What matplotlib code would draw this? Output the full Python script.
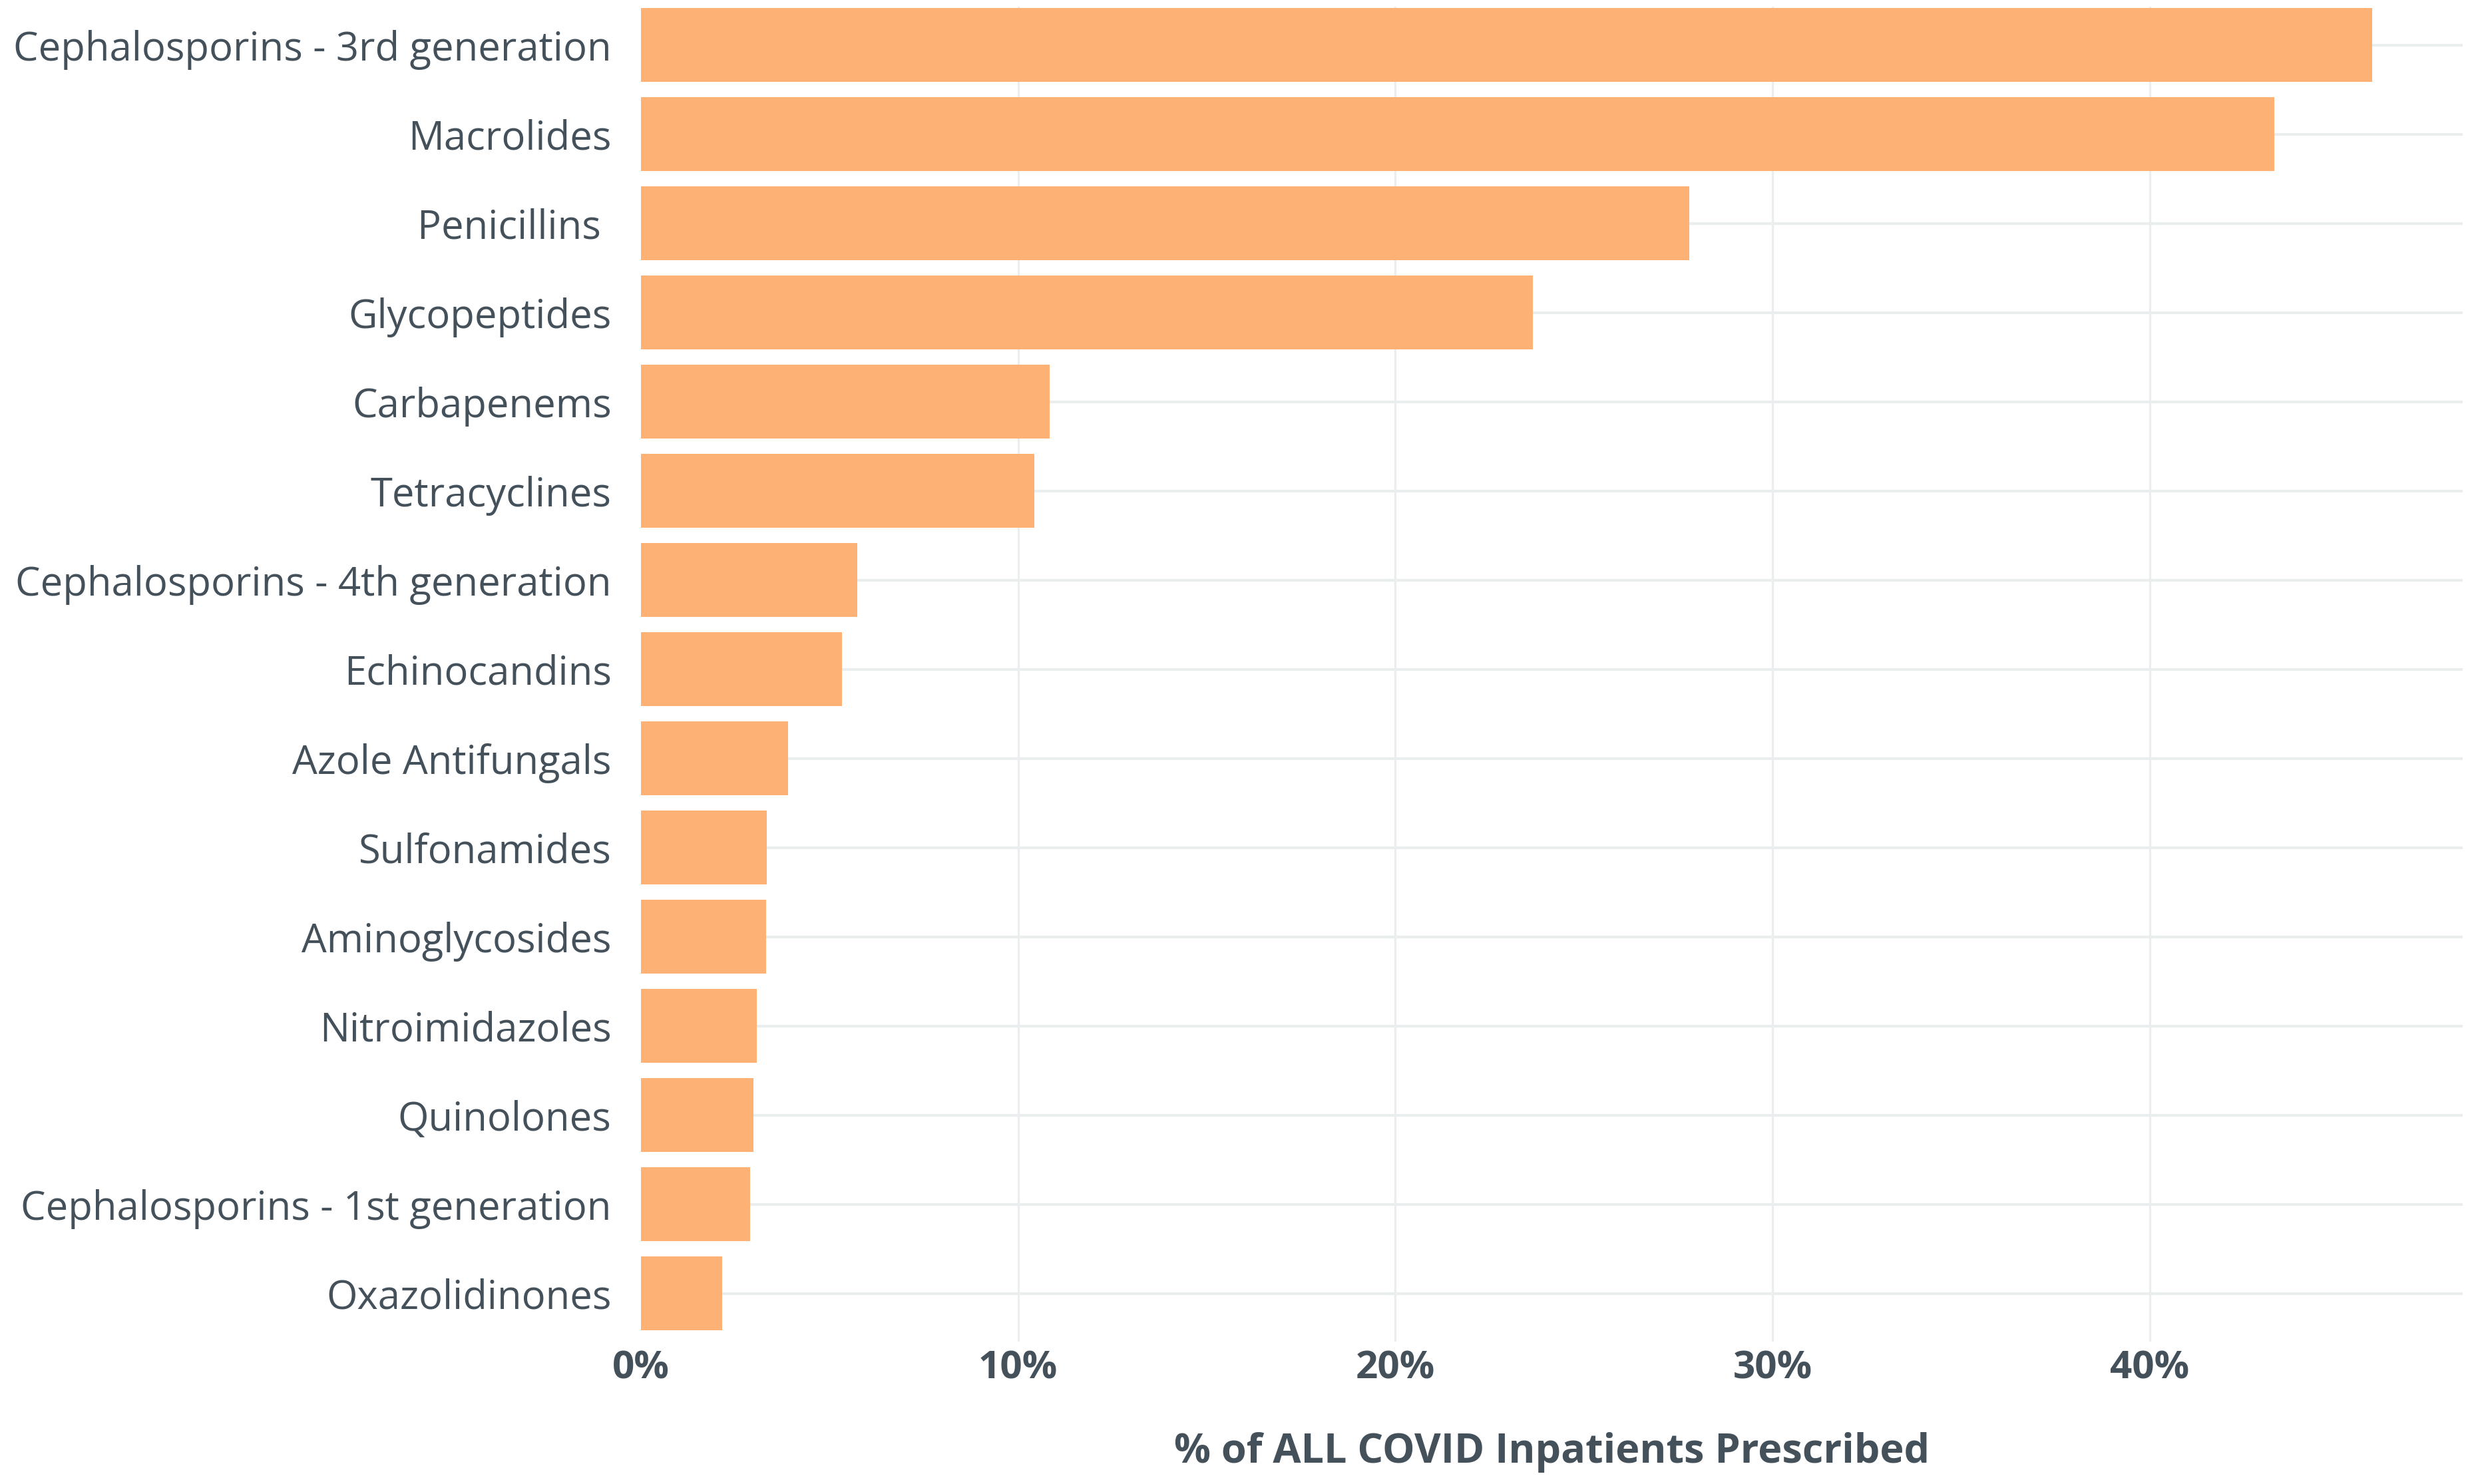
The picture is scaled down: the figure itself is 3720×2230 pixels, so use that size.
import matplotlib
matplotlib.use("Agg")
import matplotlib.pyplot as plt
from matplotlib.ticker import FuncFormatter

# data (top to bottom)
drug_classes = [
    "Cephalosporins - 3rd generation",
    "Macrolides",
    "Penicillins ",
    "Glycopeptides",
    "Carbapenems",
    "Tetracyclines",
    "Cephalosporins - 4th generation",
    "Echinocandins",
    "Azole Antifungals",
    "Sulfonamides",
    "Aminoglycosides",
    "Nitroimidazoles",
    "Quinolones",
    "Cephalosporins - 1st generation",
    "Oxazolidinones",
]
pct_prescribed = [45.9, 43.3, 27.8, 23.65, 10.83, 10.43, 5.73, 5.33, 3.9,
                  3.34, 3.31, 3.07, 2.98, 2.89, 2.15]
x_ticks = [0, 10, 20, 30, 40]

text_col = "#44515b"
bar_col = "#fdb174"
grid_col = "#ebeeee"

plt.rcParams["font.family"] = ["Open Sans", "DejaVu Sans"]

W, H = 3720, 2230
dpi = 200
fig = plt.figure(figsize=(W / dpi, H / dpi), dpi=dpi)
ax = fig.add_axes([963 / W, 1 - 2016 / H, (3700 - 963) / W, (2016 - 10) / H])

n = len(drug_classes)
ypos = [n - 1 - i for i in range(n)]

ax.barh(ypos, pct_prescribed, height=0.83, color=bar_col, zorder=3)

for y in ypos:
    ax.axhline(y, color=grid_col, lw=1.5, zorder=1)
for x in x_ticks[1:]:
    ax.axvline(x, color=grid_col, lw=1.2, zorder=1)

ax.set_xlim(0, 48.3)
ax.set_ylim(-0.54, n - 1 + 0.43)

ax.set_yticks(ypos)
ax.set_yticklabels(drug_classes, fontsize=21.5, color=text_col,
                   va="center_baseline")
ax.set_xticks(x_ticks)
ax.xaxis.set_major_formatter(FuncFormatter(lambda v, p: f"{v:.0f}%"))
for lab in ax.get_xticklabels():
    lab.set_fontweight("bold")
    lab.set_fontsize(21)
    lab.set_color(text_col)

ax.tick_params(axis="y", length=0, pad=16)
ax.tick_params(axis="x", length=0, pad=4)

ax.set_xlabel("% of ALL COVID Inpatients Prescribed", fontsize=22,
              fontweight="bold", color=text_col, labelpad=24)

for s in ax.spines.values():
    s.set_visible(False)

fig.savefig("out.png", dpi=dpi, facecolor="white")
